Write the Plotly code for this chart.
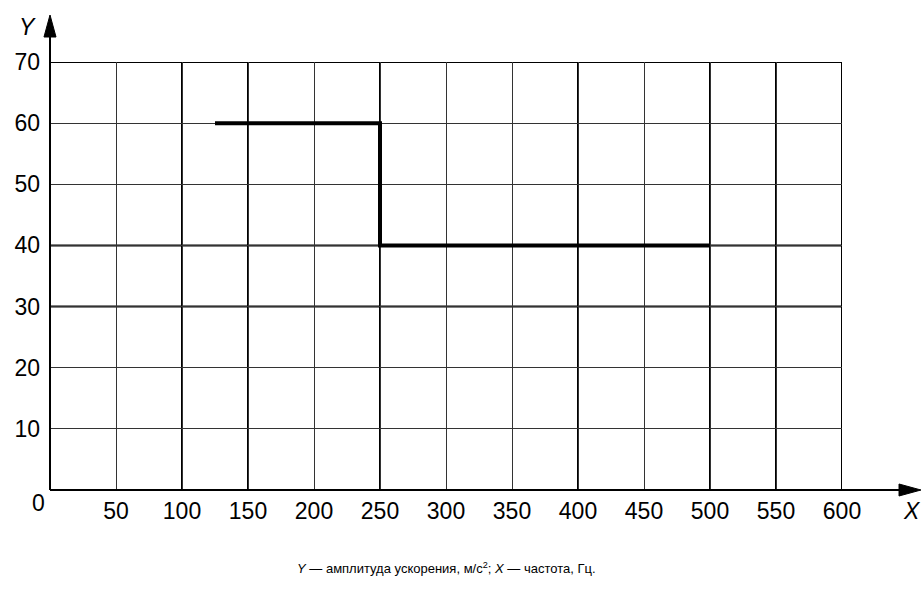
import plotly.graph_objects as go

# Data
freq = [125, 250, 250, 500]          # X — частота, Гц
accel = [60, 60, 40, 40]             # Y — амплитуда ускорения, м/с²
x_ticks = [50, 100, 150, 200, 250, 300, 350, 400, 450, 500, 550, 600]
y_ticks = [10, 20, 30, 40, 50, 60, 70]
heavy_x = [100, 150, 250, 400, 500, 550, 600]
heavy_y = [30, 40, 70]

FONT = "Liberation Sans, Arial, sans-serif"
TICK_SIZE = 23

fig = go.Figure()
fig.add_trace(go.Scatter(x=freq, y=accel, mode="lines",
                         line=dict(color="black", width=4),
                         hoverinfo="skip", showlegend=False))

shapes = []
for v in heavy_x:
    shapes.append(dict(type="line", xref="x", yref="y", x0=v, x1=v, y0=0, y1=70,
                       line=dict(color="black", width=2), layer="below"))
for v in heavy_y:
    shapes.append(dict(type="line", xref="x", yref="y", x0=0, x1=600, y0=v, y1=v,
                       line=dict(color="black", width=2), layer="below"))

# Axis lines with arrowheads (paper coordinates)
shapes += [
    dict(type="line", xref="paper", yref="paper", x0=0, x1=0, y0=0, y1=1.07,
         line=dict(color="black", width=2)),
    dict(type="path", xref="paper", yref="paper",
         path="M 0,1.1098 L -0.0076,1.0584 L 0.0076,1.0584 Z",
         fillcolor="black", line=dict(color="black", width=1)),
    dict(type="line", xref="paper", yref="paper", x0=0, x1=1.08, y0=0, y1=0,
         line=dict(color="black", width=2)),
    dict(type="path", xref="paper", yref="paper",
         path="M 1.0997,0 L 1.0720,0.0140 L 1.0720,-0.0140 Z",
         fillcolor="black", line=dict(color="black", width=1)),
]

annotations = [
    dict(x=-0.028, xref="paper", y=1.082, yref="paper", text="<i>Y</i>",
         xanchor="center", yanchor="middle", showarrow=False,
         font=dict(family=FONT, size=TICK_SIZE, color="black")),
    dict(x=-0.015, xref="paper", y=-0.030, yref="paper", text="0",
         xanchor="center", yanchor="middle", showarrow=False,
         font=dict(family=FONT, size=TICK_SIZE, color="black")),
    dict(x=1.088, xref="paper", y=-0.049, yref="paper", text="<i>X</i>",
         xanchor="center", yanchor="middle", showarrow=False,
         font=dict(family=FONT, size=TICK_SIZE, color="black")),
    dict(x=0.5, xref="paper", y=-0.182, yref="paper",
         xanchor="center", yanchor="middle",
         text="<i>Y</i> — амплитуда ускорения, м/с<sup>2</sup>; <i>X</i> — частота, Гц.",
         showarrow=False, font=dict(family=FONT, size=13, color="black")),
]

fig.update_layout(
    width=923, height=589, autosize=False,
    margin=dict(l=50, r=81, t=62, b=99),
    plot_bgcolor="white", paper_bgcolor="white",
    shapes=shapes, annotations=annotations,
    xaxis=dict(range=[0, 600], tickvals=x_ticks, showgrid=True, gridcolor="#333",
               gridwidth=1, zeroline=False, showline=False, ticks="",
               ticklabelstandoff=5, automargin=False,
               tickfont=dict(family=FONT, size=TICK_SIZE, color="black")),
    yaxis=dict(range=[0, 70], tickvals=y_ticks, showgrid=True, gridcolor="#333",
               gridwidth=1, zeroline=False, showline=False, ticks="",
               ticklabelstandoff=9, automargin=False,
               tickfont=dict(family=FONT, size=TICK_SIZE, color="black")),
)

fig.write_html("out.html", config={"displayModeBar": False},
               post_script="document.body.style.margin='0';document.body.style.overflow='hidden';")
